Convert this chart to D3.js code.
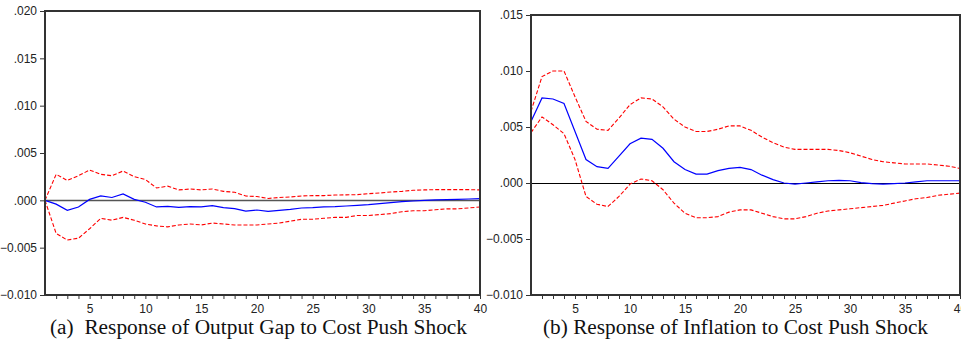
<!DOCTYPE html>
<html>
<head>
<meta charset="utf-8">
<script src="https://cdn.jsdelivr.net/npm/d3@7"></script>
<style>
  body { margin: 0; background: #fff; }
  svg { display: block; }
  .tick text { font-family: "Liberation Sans", Arial, sans-serif; font-size: 12px; fill: #222; }
  .caption { font-family: "Liberation Serif", "Times New Roman", serif; font-size: 20px; fill: #111; }
</style>
</head>
<body>
<svg width="961" height="347"></svg>
<script>
  const periods = d3.range(1, 41);

  // (a) output gap response
  const gapMean = [0, -0.0004, -0.00106, -0.0007, 0.0001, 0.00046, 0.0003, 0.00067, 0.0001, -0.0002,
    -0.0007, -0.00063, -0.00074, -0.00067, -0.0007, -0.00056, -0.00077, -0.00088, -0.00113, -0.00102,
    -0.00116, -0.00106, -0.00095, -0.00081, -0.00077, -0.0007, -0.00067, -0.0006, -0.00053, -0.00046,
    -0.00035, -0.00025, -0.00014, -0.00007, 0, 0.00004, 0.00007, 0.0001, 0.00014, 0.00018];
  const gapUpper = [0, 0.00275, 0.0021, 0.0026, 0.0032, 0.00275, 0.0026, 0.0031, 0.0025, 0.0022,
    0.0013, 0.0015, 0.0011, 0.0012, 0.0011, 0.0012, 0.00095, 0.00085, 0.00046, 0.0004,
    0.0002, 0.0003, 0.00035, 0.00046, 0.0005, 0.0005, 0.00056, 0.00058, 0.0006, 0.0007,
    0.00077, 0.00088, 0.00095, 0.00106, 0.0011, 0.00113, 0.00113, 0.00113, 0.00113, 0.0011];
  const gapLower = [0, -0.0035, -0.0042, -0.004, -0.003, -0.0019, -0.0021, -0.0018, -0.0021, -0.0025,
    -0.0027, -0.0028, -0.0026, -0.0025, -0.0026, -0.0024, -0.0025, -0.0026, -0.0026, -0.0026,
    -0.0025, -0.0024, -0.0022, -0.002, -0.002, -0.0019, -0.0018, -0.0018, -0.0016, -0.0016,
    -0.0015, -0.0014, -0.0012, -0.0011, -0.0011, -0.001, -0.0009, -0.0009, -0.0008, -0.0007];

  // (b) inflation response
  const infMean = [0.0055, 0.0076, 0.0075, 0.0071, 0.0046, 0.0021, 0.00146, 0.0013, 0.0024, 0.0035,
    0.004, 0.0039, 0.0031, 0.0019, 0.0012, 0.0008, 0.0008, 0.0011, 0.0013, 0.0014,
    0.0012, 0.0007, 0.0003, 0, -0.0001, 0, 0.0001, 0.0002, 0.00024, 0.0002,
    0.00003, -0.00006, -0.0001, -0.00006, 0, 0.0001, 0.0002, 0.0002, 0.0002, 0.0002];
  const infUpper = [0.0064, 0.0095, 0.01, 0.01, 0.0077, 0.0055, 0.0048, 0.0047, 0.0058, 0.007,
    0.0076, 0.0075, 0.0068, 0.0057, 0.005, 0.0046, 0.0046, 0.0048, 0.0051, 0.0051,
    0.0047, 0.0041, 0.0036, 0.0032, 0.003, 0.003, 0.003, 0.003, 0.0029, 0.0027,
    0.0024, 0.0021, 0.0019, 0.0018, 0.0017, 0.0017, 0.0017, 0.0016, 0.0015, 0.0013];
  const infLower = [0.0045, 0.0059, 0.0052, 0.0044, 0.0021, -0.0012, -0.0019, -0.0021, -0.0012, -0.0001,
    0.00036, 0.0002, -0.0006, -0.0018, -0.0027, -0.0031, -0.0031, -0.003, -0.0026, -0.0024,
    -0.0024, -0.0027, -0.003, -0.0032, -0.0032, -0.003, -0.0027, -0.0025, -0.0024, -0.0023,
    -0.0022, -0.0021, -0.002, -0.0018, -0.0016, -0.0014, -0.0013, -0.0011, -0.001, -0.0009];

  const xTickValues = [5, 10, 15, 20, 25, 30, 35, 40];
  const gapTicks = [-0.010, -0.005, 0, 0.005, 0.010, 0.015, 0.020];
  const infTicks = [-0.010, -0.005, 0, 0.005, 0.010, 0.015];

  const panels = [
    { left: 45, right: 480, top: 11, bottom: 295, yDomain: [-0.010, 0.020], yTicks: gapTicks,
      mean: gapMean, upper: gapUpper, lower: gapLower, zeroColor: "#555", zeroWidth: 1.5,
      caption: "(a)\u00a0 Response of Output Gap to Cost Push Shock", captionX: 50, captionW: 417 },
    { left: 531, right: 960, top: 15, bottom: 295, yDomain: [-0.010, 0.015], yTicks: infTicks,
      mean: infMean, upper: infUpper, lower: infLower, zeroColor: "#000", zeroWidth: 1,
      caption: "(b) Response of Inflation to Cost Push Shock", captionX: 543, captionW: 385 }
  ];

  const svg = d3.select("svg");
  const fmt = v => {
    const s = d3.format(".3f")(v);
    return s.replace(/^(-?)0\./, "$1.");
  };

  panels.forEach(p => {
    const x = d3.scaleLinear().domain([1, 40]).range([p.left, p.right]);
    const y = d3.scaleLinear().domain(p.yDomain).range([p.bottom, p.top]);
    const g = svg.append("g");

    // zero line (snap to pixel grid so thin line stays crisp)
    const y0 = Math.round(y(0)) + (p.zeroWidth % 2 ? 0.5 : 0);
    g.append("line")
      .attr("x1", p.left).attr("x2", p.right)
      .attr("y1", y0).attr("y2", y0)
      .attr("stroke", p.zeroColor).attr("stroke-width", p.zeroWidth);

    const line = d3.line().x((d, i) => x(periods[i])).y(d => y(d));

    // confidence bands
    [p.upper, p.lower].forEach(band => {
      g.append("path")
        .attr("d", line(band))
        .attr("fill", "none")
        .attr("stroke", "#ff0000")
        .attr("stroke-width", 1.1)
        .attr("stroke-dasharray", "4,2");
    });

    g.append("path")
      .attr("d", line(p.mean))
      .attr("fill", "none")
      .attr("stroke", "#0000ff")
      .attr("stroke-width", 1.2);

    // frame
    g.append("rect")
      .attr("x", p.left).attr("y", p.top)
      .attr("width", p.right - p.left).attr("height", p.bottom - p.top)
      .attr("fill", "none").attr("stroke", "#333").attr("stroke-width", 2);

    // y axis
    const yAxis = g.append("g")
      .attr("transform", `translate(${p.left},0)`)
      .call(d3.axisLeft(y).tickValues(p.yTicks).tickFormat(fmt).tickSize(5).tickPadding(3));
    yAxis.select(".domain").remove();
    yAxis.selectAll(".tick line").attr("stroke", "#333");

    // x axis: minor ticks every period, labels every 5
    const xAxis = g.append("g")
      .attr("transform", `translate(0,${p.bottom})`)
      .call(d3.axisBottom(x).tickValues(periods.slice(1)).tickSize(4).tickPadding(5)
        .tickFormat(d => xTickValues.includes(d) ? d : ""));
    xAxis.select(".domain").remove();
    xAxis.selectAll(".tick line").attr("stroke", "#333");

    svg.append("text")
      .attr("class", "caption")
      .attr("x", p.captionX)
      .attr("y", 334)
      .attr("textLength", p.captionW)
      .attr("lengthAdjust", "spacingAndGlyphs")
      .text(p.caption);
  });
</script>
</body>
</html>
